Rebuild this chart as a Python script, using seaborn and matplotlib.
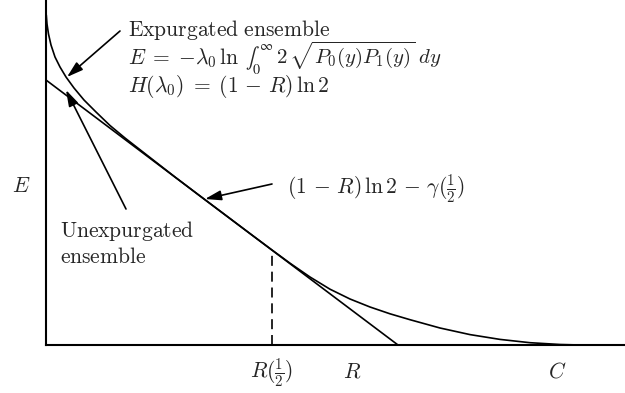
import matplotlib
matplotlib.use("Agg")
import matplotlib.pyplot as plt
import seaborn as sns
import pandas as pd

# values (rate R on x, exponent E on y)
curve_R = [0.003, 0.01, 0.025, 0.05, 0.09, 0.14, 0.20, 0.28, 0.38, 0.50,
           0.64, 0.79, 1.04, 1.29, 1.54, 2.04, 2.26, 2.44, 2.64, 2.84,
           3.04, 3.24, 3.44, 3.64, 3.94, 4.24, 4.54, 4.84, 5.14, 5.34]
curve_E = [3.30, 3.21, 3.11, 3.00, 2.88, 2.78, 2.68, 2.57, 2.45, 2.33,
           2.195, 2.07, 1.875, 1.68, 1.49, 1.114, 0.95, 0.818, 0.68, 0.558,
           0.46, 0.38, 0.312, 0.253, 0.17, 0.104, 0.056, 0.023, 0.005, 0.0]
line_R = [0.0, 3.52]
line_E = [2.65, 0.0]
R_half = 2.26
E_half = 0.95
tick_pos = [R_half, 3.06, 5.11]
tick_labels = [r'$R(\frac{1}{2})$', r'$R$', r'$C$']

sns.set_style("white")
plt.rcParams['mathtext.fontset'] = 'cm'
plt.rcParams['font.family'] = ['DejaVu Serif']

fig = plt.figure(figsize=(6.25, 3.93), dpi=100)
ax = fig.add_axes([46 / 625, 48 / 393, 579 / 625, 345 / 393])

curve = pd.DataFrame({'R': curve_R, 'E': curve_E})
line = pd.DataFrame({'R': line_R, 'E': line_E})
sns.lineplot(data=curve, x='R', y='E', color='black', lw=1.2,
             estimator=None, sort=False, ax=ax)
sns.lineplot(data=line, x='R', y='E', color='black', lw=1.2,
             estimator=None, sort=False, ax=ax)
sns.lineplot(x=[R_half, R_half], y=[0, E_half], color='black', lw=1.2,
             estimator=None, sort=False, linestyle=(0, (6, 3.5)), ax=ax)

ax.set_xlim(0, 5.79)
ax.set_ylim(0, 3.45)
ax.set_xticks([])
ax.set_yticks([])
ax.set_xlabel('')
ax.set_ylabel('')
for s in ['top', 'right']:
    ax.spines[s].set_visible(False)
for s in ['left', 'bottom']:
    ax.spines[s].set_color('black')
    ax.spines[s].set_linewidth(1.5)

fs = 15.5
# axis labels
ax.text(-0.34, 1.53, r'$E$', fontsize=fs, ha='left', va='baseline', clip_on=False)
for pos, lab in zip(tick_pos, tick_labels):
    ax.text(pos, -0.32, lab, fontsize=fs, ha='center', va='baseline', clip_on=False)

# annotations
arrow = dict(arrowstyle='-|>,head_length=0.65,head_width=0.2', color='black',
             lw=1.2, mutation_scale=15, shrinkA=0, shrinkB=0)
ax.annotate('', xy=(0.21, 2.68), xytext=(0.74, 3.14), arrowprops=arrow)
ax.annotate('', xy=(0.20, 2.55), xytext=(0.80, 1.36), arrowprops=arrow)
ax.annotate('', xy=(1.59, 1.46), xytext=(2.26, 1.61), arrowprops=arrow)

ax.text(0.82, 3.09, r'$\mathrm{Expurgated\ ensemble}$', fontsize=fs, va='baseline')

# formula line with a small inline integral: placed piece by piece
fig.canvas.draw()
rend = fig.canvas.get_renderer()
pieces = [(r'$E\;=\;{-}\lambda_0\,\ln$', 'cm', fs, 5),
          (r'$\int_0^\infty$', 'stix', fs - 1, 3),
          (r'$2\,\sqrt{P_0(y)P_1(y)}\;dy$', 'cm', fs - 0.5, 0)]
xpos = 0.82
for txt, mf, size, gap in pieces:
    t = ax.text(xpos, 2.81, txt, fontsize=size, va='baseline', math_fontfamily=mf)
    bb = t.get_window_extent(rend)
    xpos = ax.transData.inverted().transform((bb.x1 + gap, 0))[0]

ax.text(0.82, 2.53, r'$H(\lambda_0)\;=\;(1\,-\,R)\,\ln 2$', fontsize=fs, va='baseline')
ax.text(2.41, 1.52, r'$(1\,-\,R)\,\ln 2\,-\,\gamma(\frac{1}{2})$', fontsize=fs,
        va='baseline')
ax.text(0.14, 1.08, r'$\mathrm{Unexpurgated}$', fontsize=fs, va='baseline')
ax.text(0.14, 0.82, r'$\mathrm{ensemble}$', fontsize=fs, va='baseline')

fig.savefig('out.png', dpi=100)
